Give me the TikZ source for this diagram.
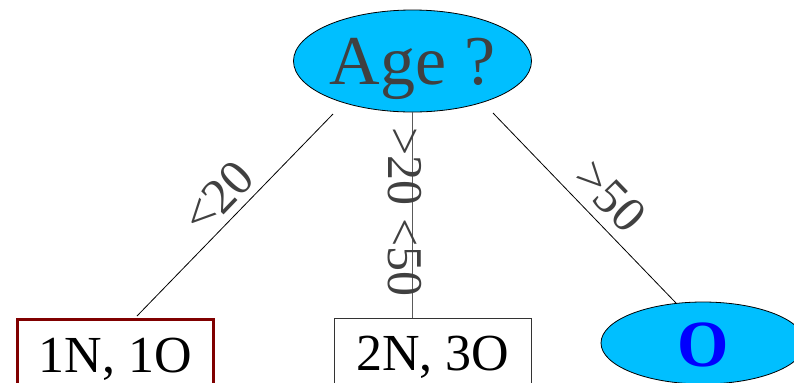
\documentclass[tikz,border=0pt]{standalone}
\usepackage{fontspec}
\setmainfont{Liberation Serif}
\usetikzlibrary{shapes.geometric}
\definecolor{skyfill}{RGB}{0,191,255}
\definecolor{inkgray}{RGB}{64,64,64}
\definecolor{leafred}{RGB}{128,0,0}
\definecolor{stemgray}{RGB}{90,90,90}
\tikzset{
  question/.style={ellipse, draw=black, line width=0.8bp, fill=skyfill, inner sep=0pt},
  leafbox/.style={rectangle, anchor=north, inner xsep=0pt, inner ysep=18bp,
    text height=35bp, text depth=30bp,
    font=\fontsize{52bp}{60bp}\selectfont},
  edgelabel/.style={text=inkgray, inner sep=0pt, font=\fontsize{50bp}{60bp}\selectfont},
  branch/.style={line width=0.8bp},
}
\begin{document}
\begin{tikzpicture}[x=1bp,y=-1bp]
\useasboundingbox (0,0) rectangle (794,382);
\clip (0,0) rectangle (794,382);

% root question
\node[question, minimum width=238bp, minimum height=102bp,
      text height=46bp, text depth=0pt, text=inkgray,
      font=\fontsize{70bp}{80bp}\selectfont] (age) at (412.5,61) {Age ?};

% leaves
\node[leafbox, draw=leafred, line width=3bp, minimum width=196bp] (young) at (115.5,317.5) {1N, 1O};
\node[leafbox, draw=black!80, line width=0.8bp, minimum width=197bp] (middle) at (433,317.5) {2N, 3O};
\node[question, minimum width=204bp, minimum height=82bp,
      text height=46bp, text depth=0pt, text=blue,
      font=\fontsize{66bp}{80bp}\selectfont\bfseries] (old) at (703,343) {O};

% branch end points
\coordinate (lA) at (333,114);
\coordinate (lB) at (137,316);
\coordinate (rA) at (493,113);
\coordinate (rB) at (676,303);

% branches
\draw[branch] (lA) -- (lB);
\draw[branch, draw=stemgray] (age.south) -- (age.south |- middle.north);
\draw[branch] (rA) -- (rB);

% branch labels
\node[edgelabel, rotate=46] (lt20) at (218,197) {<20};
\node[edgelabel, rotate=-90] (btw) at (405,212) {>20 <50};
\node[edgelabel, rotate=-46] (gt50) at (610,196) {>50};
\end{tikzpicture}
\end{document}
